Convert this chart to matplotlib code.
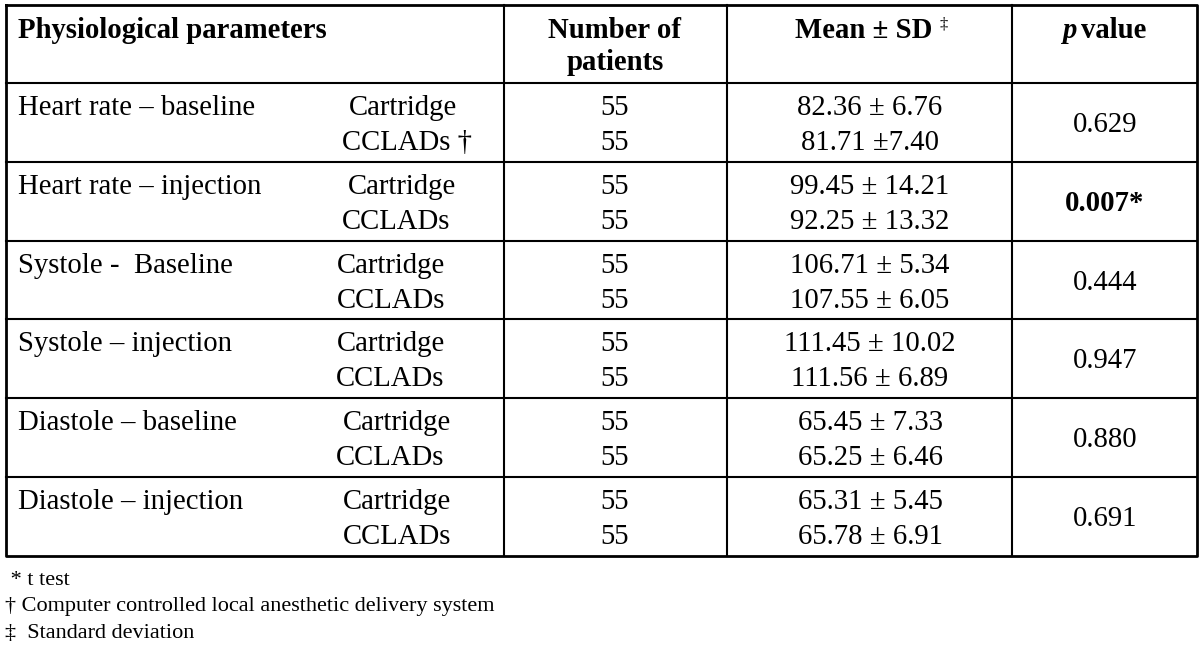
''' table of physiological parameters drawn with matplotlib'''
import matplotlib.pyplot as plt

parameters = ['Heart rate \u2013 baseline', 'Heart rate \u2013 injection',
              'Systole -  Baseline', 'Systole \u2013 injection',
              'Diastole \u2013 baseline', 'Diastole \u2013 injection']
group_top = ['Cartridge'] * 6
group_bottom = ['CCLADs \u2020', 'CCLADs', 'CCLADs', 'CCLADs', 'CCLADs', 'CCLADs']
patients_top = [55, 55, 55, 55, 55, 55]
patients_bottom = [55, 55, 55, 55, 55, 55]
mean_sd_top = ['82.36 \u00b1 6.76', '99.45 \u00b1 14.21', '106.71 \u00b1 5.34',
               '111.45 \u00b1 10.02', '65.45 \u00b1 7.33', '65.31 \u00b1 5.45']
mean_sd_bottom = ['81.71 \u00b17.40', '92.25 \u00b1 13.32', '107.55 \u00b1 6.05',
                  '111.56 \u00b1 6.89', '65.25 \u00b1 6.46', '65.78 \u00b1 6.91']
p_values = ['0.629', '0.007*', '0.444', '0.947', '0.880', '0.691']
significant = [False, True, False, False, False, False]
footnotes = [' * t test', '\u2020 Computer controlled local anesthetic delivery system',
             '\u2021  Standard deviation']


def main():
    ''' main function'''
    plt.rcParams['font.family'] = ['Liberation Serif', 'DejaVu Serif']
    fig = plt.figure(figsize=(12, 6.56), dpi=100)
    ax = fig.add_axes([0, 0, 1, 1])
    ax.set_xlim(0, 1200)
    ax.set_ylim(656, 0)
    ax.axis('off')

    fs = 20.7
    left, right, top = 6, 1197, 5
    header_h, row_h = 78, 78.8
    bottom = top + header_h + row_h * len(parameters)
    col_x = [504, 727, 1012]
    top_left_x = [349, 348, 337, 337, 343, 343]
    bottom_left_x = [342, 342, 337, 336, 336, 343]

    # grid lines
    for i in range(1, len(parameters) + 1):
        y = top + header_h + row_h * (i - 1)
        ax.plot([left, right], [y, y], color='black', lw=1.5)
    for x in col_x:
        ax.plot([x, x], [top, bottom], color='black', lw=1.5)
    ax.plot([left, right, right, left, left], [top, top, bottom, bottom, top],
            color='black', lw=2.0)

    # header
    ax.text(18, 38, 'Physiological parameters', fontsize=fs,
            fontweight='bold', va='baseline')
    ax.text(615, 38, 'Number of', fontsize=fs, fontweight='bold',
            ha='center', va='baseline')
    ax.text(615, 70, 'patients', fontsize=fs, fontweight='bold',
            ha='center', va='baseline')
    ax.text(932, 38, 'Mean \u00b1 SD', fontsize=fs, fontweight='bold',
            ha='right', va='baseline')
    ax.text(939, 29, '\u2021', fontsize=12, va='baseline')
    ax.text(1076, 38, 'p', fontsize=fs, fontweight='bold', style='italic',
            ha='right', va='baseline')
    ax.text(1081, 38, 'value', fontsize=fs, fontweight='bold',
            va='baseline')

    # body rows
    for i, name in enumerate(parameters):
        y0 = top + header_h + row_h * i
        y1 = y0 + 32
        y2 = y0 + 67
        ax.text(18, y1, name, fontsize=fs, va='baseline')
        ax.text(top_left_x[i], y1, group_top[i], fontsize=fs, va='baseline')
        ax.text(bottom_left_x[i], y2, group_bottom[i], fontsize=fs,
                va='baseline')
        ax.text(615, y1, str(patients_top[i]), fontsize=fs, ha='center',
                va='baseline')
        ax.text(615, y2, str(patients_bottom[i]), fontsize=fs, ha='center',
                va='baseline')
        ax.text(870, y1, mean_sd_top[i], fontsize=fs, ha='center',
                va='baseline')
        ax.text(870, y2, mean_sd_bottom[i], fontsize=fs, ha='center',
                va='baseline')
        ax.text(1105, y0 + 49, p_values[i], fontsize=fs, ha='center',
                va='baseline',
                fontweight='bold' if significant[i] else 'normal')

    # footnotes
    for j, note in enumerate(footnotes):
        ax.text(5, 585 + 26.5 * j, note, fontsize=16, va='baseline')

    fig.savefig('out.png', dpi=100)


if __name__ == '__main__':
    main()
